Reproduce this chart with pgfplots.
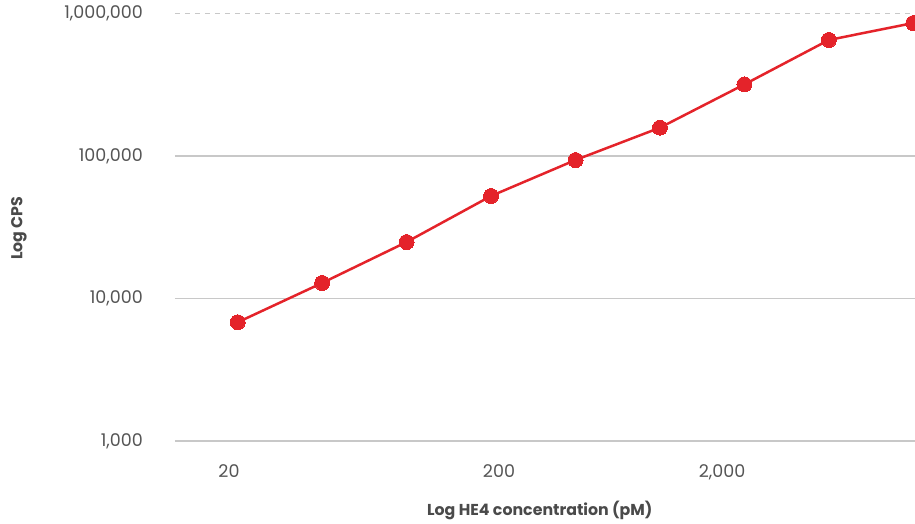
\documentclass[border=0pt]{standalone}
\usepackage{fontspec}
\setmainfont{Poppins}
\usepackage{pgfplots}
\pgfplotsset{compat=1.18}
\definecolor{linered}{HTML}{E4232A}
\definecolor{gridgray}{HTML}{C8C8C8}
\definecolor{ticktext}{HTML}{555555}
\definecolor{labeltext}{HTML}{4A4A4A}
\begin{document}
\begin{tikzpicture}
\begin{axis}[
  scale only axis, width=740pt, height=427.5pt,
  at={(0,0)}, anchor=south west,
  xmin=0.2576, xmax=9.02,
  ymode=log, ymin=1000, ymax=1000000,
  axis line style={draw=none},
  major tick length=0, minor tick length=0,
  yminorticks=false, xminorticks=false,
  /pgf/number format/assume math mode=true,
  ytick={1000,10000,100000},
  yticklabels={1{,}000,10{,}000,100{,}000},
  extra y ticks={1000000},
  extra y tick labels={1{,}000{,}000},
  ymajorgrids,
  grid style={gridgray, line width=1.5pt},
  extra y tick style={major grid style={gridgray, line width=1pt, dash pattern=on 5pt off 5pt}},
  xtick={0.897,4.094,6.735},
  xticklabels={20,200,2{,}000},
  tick label style={font=\fontsize{17.5}{20}\selectfont, text=ticktext},
  yticklabel style={anchor=east, inner sep=0pt, xshift=-32pt},
  xticklabel style={anchor=base, inner sep=0pt, yshift=-37pt},
  xlabel={\bfseries Log HE4 concentration (pM)},
  ylabel={\bfseries Log CPS},
  label style={font=\fontsize{15.8}{18}\selectfont, text=labeltext},
  xlabel style={at={(axis description cs:0.493,0)}, anchor=base, yshift=-75pt, inner sep=0pt},
  ylabel style={at={(axis description cs:-0.211,0.498)}, anchor=center, inner sep=0pt},
]
\addplot[linered, line width=2.5pt, mark=*, mark size=7.5pt,
  mark options={fill=linered, draw=linered, line width=0pt}]
  coordinates {
  (1,6810) (2,12850) (3,24900) (4,52400) (5,93700)
  (6,158000) (7,318000) (8,652000) (9,857000)
  };
\end{axis}
\pgfresetboundingbox
\path[use as bounding box] (-175pt,-83pt) rectangle (740pt,441pt);
\end{tikzpicture}
\end{document}
